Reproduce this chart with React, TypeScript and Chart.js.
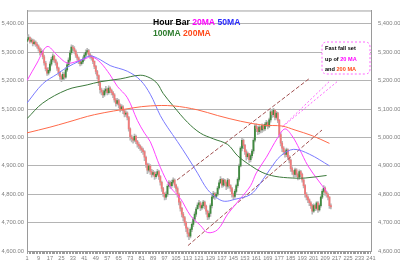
import React, { useEffect, useRef } from "react";
import { Chart, registerables } from "chart.js";

Chart.register(...registerables);

// ---------- data ----------
const xTickLabels = [1, 9, 17, 25, 33, 41, 49, 57, 65, 73, 81, 89, 97, 105, 113, 121, 129, 137, 145, 153, 161, 169, 177, 185, 193, 201, 209, 217, 225, 233, 241];
const yTickValues = [4600, 4700, 4800, 4900, 5000, 5100, 5200, 5300, 5400];

const firstOpen = 5338;
const hourClose = [
  5345, 5352, 5338, 5343, 5330, 5336, 5328, 5322, 5312, 5298,
  5302, 5284, 5262, 5242, 5226, 5236, 5258, 5274, 5286, 5272,
  5262, 5244, 5228, 5214, 5206, 5222, 5212, 5238, 5256, 5272,
  5298, 5318, 5314, 5304, 5290, 5280, 5268, 5260, 5266, 5276,
  5290, 5300, 5306, 5292, 5286, 5280, 5268, 5250, 5232, 5218,
  5192, 5168, 5160, 5150, 5164, 5170, 5158, 5174, 5166, 5158,
  5150, 5132, 5120, 5130, 5114, 5100, 5108, 5094, 5082, 5086,
  5070, 5030, 5002, 4996, 4990, 5004, 4986, 4976, 4970, 4962,
  4956, 4950, 4930, 4905, 4885, 4900, 4880, 4870, 4876, 4862,
  4870, 4880, 4862, 4842, 4820, 4802, 4790, 4800, 4828, 4840,
  4830, 4842, 4850, 4832, 4820, 4800, 4772, 4750, 4730, 4718,
  4700, 4680, 4662, 4652, 4676, 4694, 4712, 4730, 4748, 4762,
  4770, 4752, 4760, 4772, 4758, 4740, 4720, 4732, 4760, 4790,
  4802, 4792, 4800, 4822, 4840, 4852, 4832, 4850, 4840, 4828,
  4850, 4830, 4820, 4800, 4792, 4810, 4830, 4852, 4900, 4962,
  4990, 4972, 4950, 4932, 4942, 4922, 4936, 4952, 4990, 5040,
  5032, 5020, 5036, 5026, 5042, 5030, 5046, 5052, 5040, 5062,
  5090, 5080, 5096, 5070, 5086, 5060, 5010, 4980, 4962, 4950,
  4940, 4956, 4930, 4920, 4890, 4880, 4870, 4886, 4870, 4860,
  4880, 4870, 4850, 4830, 4800, 4790, 4780, 4770, 4760, 4740,
  4760, 4750, 4770, 4745, 4760, 4790, 4810, 4822, 4806, 4800,
  4790, 4760, 4755,
];
const hourHigh = [
  5358, 5362, 5354, 5350, 5346, 5344, 5340, 5334, 5326, 5316,
  5312, 5306, 5290, 5268, 5246, 5246, 5266, 5282, 5294, 5290,
  5276, 5266, 5248, 5232, 5220, 5230, 5228, 5246, 5264, 5280,
  5306, 5326, 5324, 5320, 5308, 5294, 5284, 5274, 5274, 5284,
  5298, 5308, 5314, 5310, 5296, 5290, 5284, 5270, 5254, 5236,
  5220, 5196, 5174, 5166, 5172, 5180, 5174, 5182, 5178, 5170,
  5162, 5154, 5138, 5138, 5134, 5118, 5116, 5112, 5098, 5094,
  5090, 5074, 5034, 5008, 5000, 5012, 5008, 4990, 4982, 4974,
  4968, 4962, 4954, 4934, 4910, 4908, 4904, 4888, 4884, 4880,
  4878, 4888, 4884, 4866, 4846, 4824, 4806, 4808, 4834, 4848,
  4846, 4850, 4858, 4854, 4836, 4826, 4804, 4776, 4754, 4736,
  4722, 4704, 4684, 4666, 4682, 4702, 4718, 4738, 4754, 4770,
  4778, 4774, 4766, 4778, 4776, 4762, 4744, 4738, 4766, 4796,
  4810, 4806, 4806, 4828, 4848, 4862, 4856, 4856, 4852, 4844,
  4856, 4852, 4834, 4824, 4804, 4816, 4836, 4858, 4906, 4968,
  5000, 4994, 4976, 4956, 4948, 4944, 4942, 4958, 4996, 5046,
  5048, 5038, 5042, 5040, 5048, 5046, 5052, 5060, 5056, 5068,
  5096, 5094, 5102, 5098, 5092, 5088, 5064, 5016, 4986, 4968,
  4956, 4962, 4960, 4936, 4924, 4896, 4884, 4892, 4890, 4874,
  4886, 4884, 4874, 4854, 4834, 4806, 4794, 4784, 4774, 4764,
  4766, 4764, 4774, 4774, 4766, 4794, 4816, 4830, 4826, 4810,
  4804, 4792, 4766,
];
const hourLow = [
  5330, 5340, 5332, 5334, 5322, 5326, 5320, 5314, 5304, 5290,
  5292, 5276, 5254, 5234, 5218, 5220, 5230, 5252, 5268, 5264,
  5254, 5236, 5218, 5204, 5196, 5200, 5204, 5208, 5232, 5250,
  5266, 5292, 5306, 5296, 5282, 5272, 5260, 5252, 5254, 5260,
  5270, 5284, 5296, 5284, 5278, 5272, 5260, 5242, 5224, 5206,
  5182, 5156, 5150, 5140, 5144, 5156, 5150, 5152, 5158, 5150,
  5140, 5124, 5110, 5114, 5104, 5090, 5094, 5084, 5072, 5074,
  5062, 5022, 4990, 4984, 4980, 4984, 4978, 4966, 4960, 4954,
  4946, 4940, 4918, 4894, 4872, 4878, 4870, 4860, 4864, 4852,
  4856, 4864, 4852, 4832, 4810, 4792, 4780, 4782, 4792, 4826,
  4820, 4824, 4838, 4824, 4810, 4790, 4762, 4740, 4720, 4706,
  4690, 4668, 4650, 4640, 4646, 4668, 4686, 4704, 4722, 4750,
  4756, 4742, 4746, 4752, 4748, 4730, 4710, 4712, 4722, 4752,
  4784, 4782, 4786, 4794, 4818, 4836, 4824, 4826, 4830, 4816,
  4820, 4822, 4810, 4790, 4782, 4786, 4804, 4824, 4846, 4896,
  4952, 4960, 4940, 4920, 4926, 4912, 4914, 4928, 4944, 4984,
  5020, 5010, 5012, 5016, 5018, 5022, 5024, 5038, 5030, 5034,
  5054, 5070, 5072, 5062, 5064, 5052, 5000, 4970, 4950, 4940,
  4930, 4932, 4922, 4910, 4880, 4870, 4860, 4862, 4862, 4850,
  4852, 4862, 4842, 4822, 4790, 4780, 4770, 4760, 4750, 4730,
  4736, 4742, 4744, 4736, 4740, 4754, 4784, 4804, 4796, 4790,
  4780, 4750, 4748,
];

// moving averages: [bar, value]
const ma20 = [
  [1, 5200], [8, 5262], [15, 5320], [22, 5290], [29, 5262], [36, 5268], [43, 5280], [46, 5285],
  [52, 5265], [59, 5220], [64, 5180], [71, 5140], [78, 5060], [83, 5015], [87, 4985], [94, 4895],
  [101, 4825], [108, 4785], [115, 4725], [122, 4690], [127, 4665], [134, 4675], [141, 4730],
  [150, 4785], [157, 4830], [161, 4875], [168, 4930], [176, 5000], [181, 5030], [186, 5005],
  [191, 4960], [197, 4900], [204, 4850], [210, 4810],
];
const ma50 = [
  [1, 5121], [12, 5189], [22, 5223], [29, 5247], [38, 5270], [45, 5287], [52, 5274], [59, 5253],
  [71, 5233], [80, 5202], [87, 5152], [94, 5077], [99, 5036], [106, 4985], [113, 4931], [120, 4874],
  [127, 4816], [134, 4785], [139, 4775], [146, 4782], [157, 4799], [164, 4840], [171, 4891],
  [178, 4935], [187, 4958], [198, 4941], [212, 4900],
];
const ma100 = [
  [1, 5066], [12, 5121], [29, 5168], [43, 5185], [52, 5196], [66, 5206], [80, 5219], [87, 5209],
  [92, 5189], [96, 5155], [103, 5111], [113, 5053], [122, 5015], [131, 4995], [141, 4975],
  [148, 4935], [157, 4901], [165, 4877], [174, 4863], [186, 4857], [195, 4857], [210, 4866],
];
const ma200 = [
  [1, 5016], [17, 5036], [29, 5053], [48, 5080], [75, 5104], [87, 5111], [103, 5111], [120, 5097],
  [134, 5077], [150, 5057], [166, 5043], [179, 5040], [188, 5026], [200, 5006], [212, 4979],
];

// trend channel and call-out pointer lines: [bar, value]
const channelUpper = [[105.7, 4850], [198.4, 5209]];
const channelLower = [[113.3, 4619], [206.8, 5026]];
const pointerA = [[211.7, 5196], [178.9, 5036]];
const pointerB = [[217.3, 5196], [178.9, 5036]];

const titleLine1 = [["Hour Bar ", "#000000"], ["20MA ", "#ff00ff"], ["50MA", "#2a2aff"]];
const titleLine2 = [["100MA ", "#2e7d2e"], ["200MA", "#ff4a1a"]];
const noteLines = [
  [["Fast fall set", "#000000"]],
  [["up of ", "#000000"], ["20 MA", "#ff00ff"]],
  [["and ", "#000000"], ["200 MA", "#ff4a1a"]],
];

// ---------- helpers ----------
const pts = (arr: number[][]) => arr.map(([x, y]) => ({ x, y }));
const FONT = "'Liberation Sans', Arial, sans-serif";

const overlayPlugin = {
  id: "overlay",
  afterDraw(chart: any) {
    const ctx = chart.ctx as CanvasRenderingContext2D;
    const a = chart.chartArea;
    ctx.save();
    // top frame line
    ctx.strokeStyle = "#a0a0a0";
    ctx.lineWidth = 1;
    ctx.beginPath();
    ctx.moveTo(a.left, a.top + 0.5);
    ctx.lineTo(a.right, a.top + 0.5);
    ctx.stroke();

    // title
    ctx.textBaseline = "middle";
    ctx.textAlign = "left";
    ctx.font = `bold 8.6px ${FONT}`;
    const drawSegs = (segs: string[][], x0: number, y: number) => {
      let x = x0;
      for (const [t, c] of segs) {
        ctx.fillStyle = c;
        ctx.fillText(t, x, y);
        x += ctx.measureText(t).width;
      }
    };
    drawSegs(titleLine1, 153, 22.8);
    drawSegs(titleLine2, 153, 34);

    // call-out box
    const bx = 322, by = 42, bw = 48, bh = 32, r = 5;
    ctx.beginPath();
    ctx.moveTo(bx + r, by);
    ctx.lineTo(bx + bw - r, by);
    ctx.quadraticCurveTo(bx + bw, by, bx + bw, by + r);
    ctx.lineTo(bx + bw, by + bh - r);
    ctx.quadraticCurveTo(bx + bw, by + bh, bx + bw - r, by + bh);
    ctx.lineTo(bx + r, by + bh);
    ctx.quadraticCurveTo(bx, by + bh, bx, by + bh - r);
    ctx.lineTo(bx, by + r);
    ctx.quadraticCurveTo(bx, by, bx + r, by);
    ctx.closePath();
    ctx.fillStyle = "#ffffff";
    ctx.fill();
    ctx.setLineDash([2, 2]);
    ctx.strokeStyle = "#ff66ff";
    ctx.stroke();
    ctx.setLineDash([]);

    ctx.font = `bold 5.6px ${FONT}`;
    noteLines.forEach((segs, k) => drawSegs(segs, 325, 48.7 + k * 10.3));
    ctx.restore();
  },
};

export default function App() {
  const ref = useRef<HTMLCanvasElement>(null);

  useEffect(() => {
    const canvas = ref.current;
    if (!canvas) return;

    const opens = hourClose.map((_, i) => (i === 0 ? firstOpen : hourClose[i - 1]));
    const wicks = hourClose.map((_, i) => ({ x: i + 1, y: [hourLow[i], hourHigh[i]] }));
    const bodies = hourClose.map((c, i) => ({ x: i + 1, y: [opens[i], c] }));
    const bodyColors = hourClose.map((c, i) => (c >= opens[i] ? "#3f8a3f" : "#f07a7a"));

    const lineDs = (label: string, data: number[][], color: string, extra: any = {}) => ({
      type: "line",
      label,
      data: pts(data),
      borderColor: color,
      borderWidth: 1,
      pointRadius: 0,
      fill: false,
      tension: 0.35,
      order: 1,
      ...extra,
    });

    const chart = new Chart(canvas, {
      type: "bar",
      data: {
        datasets: [
          {
            type: "bar",
            label: "wick",
            data: wicks,
            backgroundColor: "#b8b8b8",
            barThickness: 1,
            grouped: false,
            order: 20,
          },
          {
            type: "bar",
            label: "body",
            data: bodies,
            backgroundColor: bodyColors,
            barThickness: 1.2,
            minBarLength: 1,
            grouped: false,
            order: 19,
          },
          lineDs("200MA", ma200, "#ff6a4a"),
          lineDs("100MA", ma100, "#3c7a3c"),
          lineDs("50MA", ma50, "#7a7aff"),
          lineDs("20MA", ma20, "#ff44ff"),
          lineDs("upper", channelUpper, "#a05050", { borderDash: [4, 2], tension: 0 }),
          lineDs("lower", channelLower, "#a05050", { borderDash: [4, 2], tension: 0 }),
          lineDs("ptrA", pointerA, "#ff66ff", { borderDash: [2, 2], tension: 0 }),
          lineDs("ptrB", pointerB, "#ff66ff", { borderDash: [2, 2], tension: 0 }),
        ] as any,
      },
      options: {
        responsive: false,
        animation: false,
        events: [],
        layout: { padding: { top: 1, left: 0, right: 0, bottom: 0 } },
        plugins: { legend: { display: false }, tooltip: { enabled: false }, title: { display: false } },
        scales: {
          x: {
            type: "linear",
            min: 1,
            max: 241,
            offset: false,
            afterFit: (s: any) => { s.height = 11; },
            ticks: {
              stepSize: 1,
              autoSkip: false,
              maxRotation: 0,
              minRotation: 0,
              padding: 1,
              color: "#808080",
              font: { size: 5.6, family: FONT },
              callback: (v: any) => (xTickLabels.includes(Number(v)) ? String(v) : ""),
            },
            grid: { drawOnChartArea: false, drawTicks: true, tickLength: 3, color: "#9a9a9a" },
            border: { display: true, color: "#9a9a9a" },
          },
          y: {
            type: "linear",
            position: "left",
            min: 4600,
            max: 5447,
            afterFit: (s: any) => { s.width = 27; },
            afterBuildTicks: (s: any) => { s.ticks = yTickValues.map((v) => ({ value: v })); },
            ticks: {
              padding: 3,
              color: "#808080",
              font: { size: 5.8, family: FONT },
              callback: (v: any) => Number(v).toLocaleString("en-US", { minimumFractionDigits: 2, maximumFractionDigits: 2 }),
            },
            grid: { drawTicks: false, color: "#b4b4b4", lineWidth: 1 },
            border: { display: true, color: "#9a9a9a" },
          },
          yRight: {
            type: "linear",
            position: "right",
            min: 4600,
            max: 5447,
            afterFit: (s: any) => { s.width = 29; },
            afterBuildTicks: (s: any) => { s.ticks = yTickValues.map((v) => ({ value: v })); },
            ticks: {
              padding: 7,
              color: "#808080",
              font: { size: 5.8, family: FONT },
              callback: (v: any) => Number(v).toLocaleString("en-US", { minimumFractionDigits: 2, maximumFractionDigits: 2 }),
            },
            grid: { drawOnChartArea: false, drawTicks: false },
            border: { display: true, color: "#9a9a9a" },
          },
        },
      } as any,
      plugins: [overlayPlugin],
    });

    return () => chart.destroy();
  }, []);

  return (
    <div style={{ position: "fixed", left: 0, top: 0, width: 400, height: 262, background: "#ffffff" }}>
      <canvas ref={ref} width={400} height={262} style={{ display: "block", width: 400, height: 262 }} />
    </div>
  );
}
